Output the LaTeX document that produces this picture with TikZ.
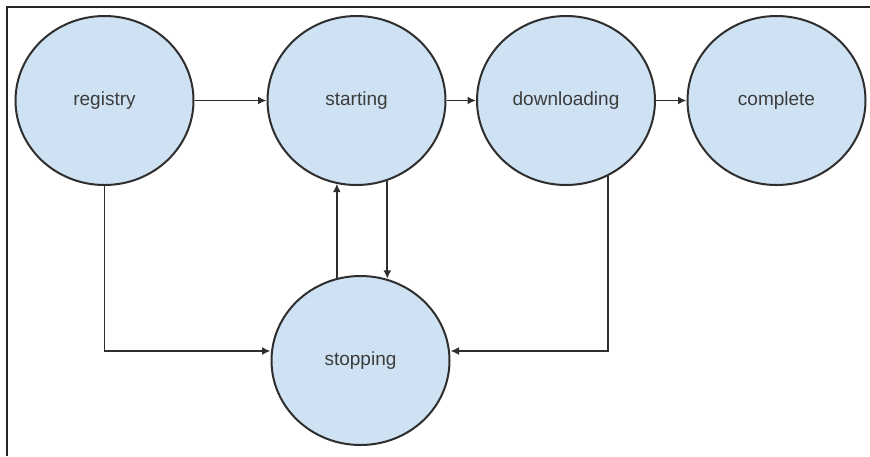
\documentclass[tikz,border=0pt]{standalone}
\usepackage{fontspec}
\setmainfont{Liberation Sans}
\usetikzlibrary{shapes.geometric,arrows.meta}
\definecolor{statefill}{HTML}{CFE2F3}
\definecolor{edgegray}{HTML}{2E2E2E}
\definecolor{labelgray}{HTML}{3C3C3C}
\tikzset{
  state/.style={ellipse, draw=edgegray, fill=statefill, line width=2pt,
    minimum width=178pt, minimum height=169pt, inner sep=0pt,
    font=\fontsize{19}{22}\selectfont, text=labelgray},
  arr/.style={draw=edgegray, line width=1.9pt,
    -{Latex[length=8.5pt,width=8pt]}},
  frameline/.style={draw=black!85, line width=1.8pt}
}
\begin{document}
\begin{tikzpicture}[x=1pt, y=-1pt]
  \useasboundingbox (0,0) rectangle (870,456);
  % page frame (left and top edges)
  \coordinate (fa) at (7,456);
  \coordinate (fb) at (7,7);
  \coordinate (fc) at (870,7);
  \draw[frameline] (fa) -- (fb) -- (fc);

  % states
  \node[state] (registry)    at (104.5,100.5) {registry};
  \node[state] (starting)    at (356.5,100.5) {starting};
  \node[state] (downloading) at (566,100.5)   {downloading};
  \node[state] (complete)    at (776.5,100.5) {complete};
  \node[state] (stopping)    at (360.5,360.5) {stopping};

  % top row transitions
  \draw[arr] (registry.east) -- (starting.west);
  \draw[arr] (starting.east) -- (downloading.west);
  \draw[arr] (downloading.east) -- (complete.west);

  % starting <-> stopping
  \draw[arr] (stopping.106.8) -- (stopping.106.8 |- starting.-104);
  \draw[arr] (starting.-69.7) -- (starting.-69.7 |- stopping.72.5);

  % elbow transitions into stopping
  \draw[arr] (registry.south) |- ([yshift=9.5pt]stopping.west);
  \draw[arr] (downloading.-61.3) |- ([yshift=9.5pt]stopping.east);
\end{tikzpicture}
\end{document}
